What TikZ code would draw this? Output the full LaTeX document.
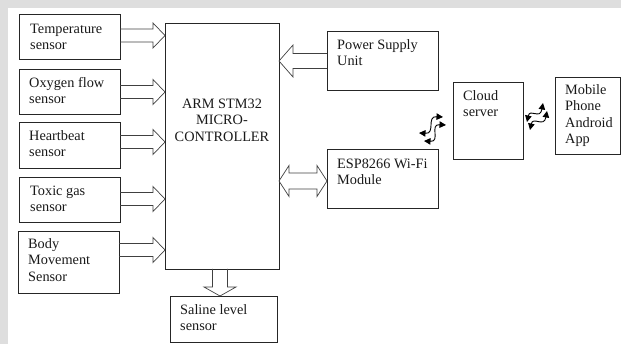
\documentclass[tikz,border=0pt]{standalone}
\usepackage{fontspec}
\setmainfont{Liberation Serif}
\usetikzlibrary{arrows.meta,calc}
\definecolor{wm}{HTML}{DEDEDE}
\newcommand\rblk[3]{\draw[blk] ({#1},{#3-6.5}) -- ({#2-12},{#3-6.5}) -- ({#2-12},{#3-12.5}) -- ({#2},{#3}) -- ({#2-12},{#3+12.5}) -- ({#2-12},{#3+6.5}) -- ({#1},{#3+6.5});}
\begin{document}
\begin{tikzpicture}[x=1pt,y=-1pt,
  box/.style={draw=black!85, line width=0.8pt, inner sep=0pt, anchor=north west},
  txt/.style={inner sep=0pt, anchor=north west, align=left, text=black!90, font=\fontsize{14.3}{16.5}\selectfont},
  ctxt/.style={txt, anchor=north, align=center},
  blk/.style={draw=black!75, line width=0.7pt, line join=miter},
  wave/.style={draw=black, line width=0.9pt, {Triangle[length=6.5pt,width=6.5pt]}-{Triangle[length=6.5pt,width=6.5pt]}}
]
\useasboundingbox (0,0) rectangle (621,344);
\fill[wm] (0,0) rectangle (621,8);
\fill[wm] (0,0) rectangle (8,344);
% boxes
\node[box, minimum width=101pt, minimum height=45pt] (temp) at (19,14) {};
\node[box, minimum width=101pt, minimum height=45pt] (oxy) at (19,69) {};
\node[box, minimum width=101pt, minimum height=46pt] (heart) at (19,122) {};
\node[box, minimum width=101pt, minimum height=45pt] (toxic) at (19,177) {};
\node[box, minimum width=101pt, minimum height=62pt] (body) at (18,231) {};
\node[box, minimum width=114pt, minimum height=246pt] (arm) at (165,23) {};
\node[box, minimum width=107pt, minimum height=46pt] (saline) at (170,296) {};
\node[box, minimum width=111pt, minimum height=59pt] (power) at (327,31) {};
\node[box, minimum width=111pt, minimum height=59pt] (esp) at (327,149) {};
\node[box, minimum width=70pt, minimum height=77pt] (cloud) at (453,82) {};
\node[box, minimum width=65pt, minimum height=77pt] (mobile) at (555,77) {};
% texts
\node[txt] (tempT) at (30,21.45) {\strut Temperature\\sensor};
\node[txt] (oxyT) at (29,75.45) {\strut Oxygen flow\\sensor};
\node[txt] (heartT) at (29,128.45) {\strut Heartbeat\\sensor};
\node[txt] (toxicT) at (30,183.45) {\strut Toxic gas\\sensor};
\node[txt] (bodyT) at (28,236.45) {\strut Body\\Movement\\Sensor};
\node[ctxt] (armT) at (222,96.45) {\strut ARM STM32\\MICRO-\\CONTROLLER};
\node[txt] (salineT) at (180,302.45) {\strut Saline level\\sensor};
\node[txt] (powerT) at (337,37.45) {\strut Power Supply\\Unit};
\node[txt] (espT) at (337,156.45) {\strut ESP8266 Wi-Fi\\Module};
\node[txt] (cloudT) at (463,88.45) {\strut Cloud\\server};
\node[txt] (mobileT) at (565,82.45) {\strut Mobile\\Phone\\Android\\App};
% block arrows sensors -> ARM
\rblk{120}{165}{35.5}
\rblk{120}{165}{92}
\rblk{120}{165}{142}
\rblk{120}{165}{199}
\rblk{119}{165}{250}
% power -> ARM
\draw[blk] (327,53.5) -- (293,53.5) -- (293,45) -- (279,61) -- (293,77) -- (293,68.5) -- (327,68.5);
% ARM <-> ESP
\draw[blk] (279,181) -- (289,165.5) -- (289,173) -- (317,173) -- (317,165.5) -- (327,181) -- (317,196.5) -- (317,189) -- (289,189) -- (289,196.5) -- cycle;
% ARM -> saline
\draw[blk] (212.5,269) -- (212.5,287) -- (204,287) -- (220,296) -- (236,287) -- (227.5,287) -- (227.5,269);
% wireless links
\coordinate (w1a) at (419,133); \coordinate (w1b) at (443,117);
\coordinate (w2a) at (424,141); \coordinate (w2b) at (446,125);
\coordinate (w3a) at (527,122); \coordinate (w3b) at (543,103);
\coordinate (w4a) at (530,130); \coordinate (w4b) at (547,111);
\draw[wave] (w1a) .. controls (436,134) and (426,116) .. (w1b);
\draw[wave] (w2a) .. controls (441,142) and (429,124) .. (w2b);
\draw[wave] (w3a) .. controls (530,108) and (540,120) .. (w3b);
\draw[wave] (w4a) .. controls (533,116) and (544,128) .. (w4b);
\end{tikzpicture}
\end{document}
